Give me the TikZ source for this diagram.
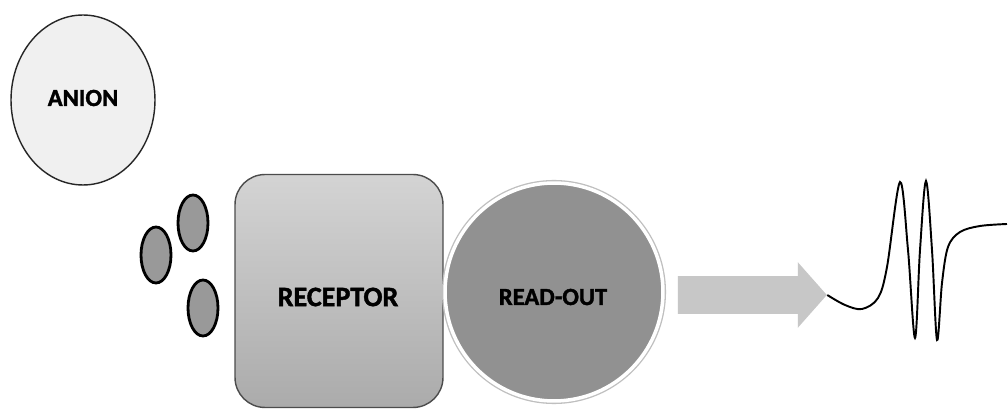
\documentclass[tikz,border=0pt]{standalone}
\usepackage{fontspec}
\usepackage{tikz}
\usetikzlibrary{shapes.geometric,shapes.arrows}
\newfontfamily\lblfont{Carlito}[BoldFeatures={FakeBold=1.5}]
\tikzset{
  blob/.style={ellipse, draw=black, line width=1.6pt, fill=black!40,
    minimum width=0.6cm, minimum height=1.12cm, inner sep=0pt},
  lbl/.style={font=\lblfont\bfseries\fontsize{14}{16}\selectfont}
}

\begin{document}
\begin{tikzpicture}[x=0.02cm,y=-0.02cm]
      \useasboundingbox[fill=white] (0,0) rectangle (1008,411);
      % anion and its small partners
      \node (An) [ellipse, draw=black!85, line width=0.8pt, fill=black!6,
        minimum width=2.88cm, minimum height=3.4cm, inner sep=0pt] at (83,100) {};
      \node (AnT) [lbl] at (83,98) {ANION};
      \node (B1) [blob] at (193,223) {};
      \node (B2) [blob] at (156,255) {};
      \node (B3) [blob] at (203,308) {};
      % receptor and read-out
      \node (R) [rectangle, rounded corners=0.6cm, draw=black!70, line width=0.8pt,
        top color=black!17, bottom color=black!33,
        minimum width=4.16cm, minimum height=4.66cm] at (339,291) {};
      \node (RT) [lbl, font=\lblfont\bfseries\fontsize{16}{18}\selectfont] at (338,297) {RECEPTOR};
      \node (O) [circle, fill=black!43, draw=white, line width=2pt,
        preaction={draw=black!25, line width=3.5pt},
        minimum size=4.36cm, inner sep=0pt] at (554,292) {};
      \node (OT) [lbl] at (553,297) {READ-OUT};
      % signal
      \node (Ar) [single arrow, fill=black!22, inner xsep=0pt, inner ysep=0.37cm,
        minimum height=2.98cm, minimum width=1.3cm,
        single arrow head extend=0.28cm, single arrow tip angle=97] at (744,295) {};
      \draw [line width=1.1pt] plot [smooth, tension=0.55] coordinates {
        (Ar.tip) (845,305) (862,309) (878,298) (887,267) (900,182) (908,250)
        (915,338) (920,250) (926,181) (932,250) (937,340) (942,283) (948,247)
        (960,232) (980,226) (1007,224)};
    \end{tikzpicture}
\end{document}
